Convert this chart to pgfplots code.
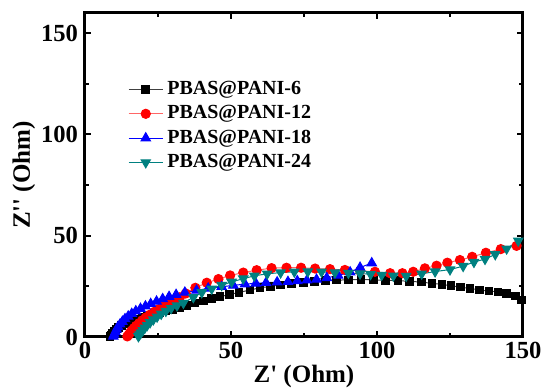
\documentclass[border=0pt]{standalone}
\usepackage{pgfplots}
\pgfplotsset{compat=1.18}
\usepackage{fontspec}
\setmainfont{Liberation Serif}
\definecolor{tealc}{RGB}{0,128,128}
\begin{document}
\bfseries
\begin{tikzpicture}
\begin{axis}[
  scale only axis, width=219pt, height=162pt,
  xmin=0, xmax=150, ymin=0, ymax=160,
  xtick={0,50,100,150}, ytick={0,50,100,150},
  minor xtick={25,75,125}, minor ytick={25,75,125},
  tick align=inside, major tick length=3pt, minor tick length=2pt,
  axis line style={line width=1.5pt},
  every tick/.style={black, line width=1pt},
  /pgf/number format/assume math mode=true,
  tick label style={font=\fontsize{12.3}{14}\selectfont\bfseries},
  xticklabel style={yshift=1pt},
  xlabel={Z\textquotesingle\ (Ohm)}, ylabel={Z\textquotesingle\textquotesingle\ (Ohm)},
  label style={font=\fontsize{12.5}{14}\selectfont\bfseries},
  xlabel style={yshift=3.5pt}, ylabel style={yshift=-4pt},
  legend style={at={(rel axis cs:0.084,0.815)}, anchor=north west, draw=none, fill=none,
    font=\fontsize{10}{12}\selectfont\bfseries, row sep=0pt},
  legend cell align=left,
  clip=false,
]
\addplot[color=darkgray, line width=0.5pt, mark=square*, mark size=1.9pt, mark options={draw=black, fill=black, solid}] coordinates {
(8.5,0.3)(9,1)(9.5,2)(10,3)(10.7,4)(11.5,4.8)(12.5,5.6)(13.7,6.4)(15,7.2)(16.5,8)(18,8.8)(19.7,9.6)(21.5,10.4)(23.5,11.2)(25.5,12)(27.7,12.8)(30,13.7)(32.5,14.7)(35,15.7)(37.7,16.8)(40.5,17.8)(43.3,18.9)(46.3,19.9)(49.5,21)(52.7,22)(56.5,23.2)(60,24.3)(63.5,25)(67,25.7)(70.8,26.5)(74.8,26.8)(78.5,27.3)(82.3,27.8)(86.2,28.1)(90.2,28.2)(94.5,28.4)(98.7,28.2)(103,28)(107.2,27.8)(111.2,27.5)(115.2,27.1)(118.8,26.5)(122.2,26)(125.3,25.3)(128.5,24.6)(131.8,24)(135.2,23.2)(138.3,22.7)(141.5,22.3)(144.4,21.5)(147.5,20.3)(149.5,18.3)
};
\addlegendentry{PBAS@PANI-6}
\addplot[color=red!60, line width=0.5pt, mark=*, mark size=2.3pt, mark options={draw=red, fill=red, solid}] coordinates {
(14.5,0.3)(15,1.2)(15.5,2.2)(16,3.2)(16.7,4.3)(17.5,5.5)(18.5,6.8)(19.6,8.2)(20.8,9.6)(22.2,11)(23.7,12.4)(25.3,13.8)(27,15.2)(28.8,16.6)(30.7,18)(32.5,19.6)(34.5,21.5)(37.8,24.3)(41.7,26.8)(45.7,28.6)(49.7,30.4)(54.2,31.8)(58.8,33)(63.9,34)(69,34.2)(74,34.2)(78.8,33.8)(83.9,33.5)(89,33.1)(94.2,32.7)(99.3,32.2)(104.5,31.5)(108.7,31.5)(112.4,32.2)(116.4,33.9)(120.4,35.2)(124.1,36.7)(128.4,38)(132.6,39.6)(137.3,41.6)(142.4,43.4)(147.8,45)
};
\addlegendentry{PBAS@PANI-12}
\addplot[color=blue, line width=0.5pt, mark=triangle*, mark size=2.7pt, mark options={draw=blue, fill=blue, solid}] coordinates {
(9.7,0.3)(10,1.3)(10.4,2.5)(10.8,3.7)(11.3,5)(12,6.3)(12.8,7.6)(13.7,8.9)(14.8,10.2)(16,11.5)(17.4,12.8)(19,14)(20.7,15.2)(22.5,16.4)(24.5,17.6)(26.6,18.8)(28.8,19.9)(31.2,20.9)(34.2,22)(38.2,23)(42.2,24)(46.8,24.8)(50.8,25.5)(54.8,26.1)(58.5,26.5)(62,26.8)(65.8,27.1)(69.5,27.3)(72.7,27.7)(76,28)(79.3,28.4)(82.8,29.2)(86.7,30.4)(90.8,32)(94.2,34.3)(98.2,36.5)
};
\addlegendentry{PBAS@PANI-18}
\addplot[color=tealc, line width=0.5pt, mark=triangle*, mark size=2.7pt, mark options={draw=tealc, fill=tealc, solid, rotate=180}] coordinates {
(18.3,0.3)(18.7,1.2)(19.2,2.2)(19.8,3.3)(20.5,4.5)(21.3,5.8)(22.3,7.2)(23.4,8.6)(24.7,10)(26.1,11.4)(27.7,12.8)(29.5,14.2)(31.5,15.5)(33.7,16.8)(37.1,19.6)(40,22)(43.4,23.8)(46.8,25.6)(50.2,27.2)(54.2,28.8)(58,30.2)(62.4,31.2)(67,31.8)(71.7,32.2)(76.3,32.3)(81,32.2)(85.6,31.8)(90.2,31.6)(94.2,31.3)(97.8,31)(101.6,30.6)(105.6,30.2)(110,30.1)(115.3,31.2)(119.9,32.3)(125,33.3)(129.5,35)(133.2,37)(137,38.5)(140.5,40.8)(144.4,43.6)(148.4,47.5)
};
\addlegendentry{PBAS@PANI-24}
\end{axis}
\pgfresetboundingbox
\path ([xshift=-42.5pt,yshift=-26.5pt]current axis.south west) rectangle ([xshift=9.5pt,yshift=6.5pt]current axis.north east);
\end{tikzpicture}
\end{document}
